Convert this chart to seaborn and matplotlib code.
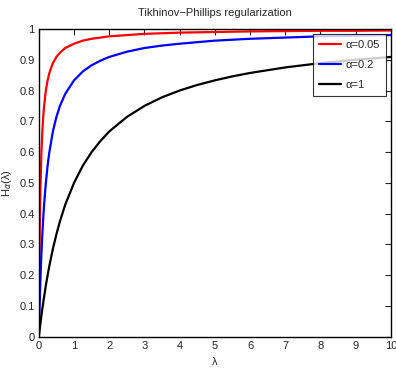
import matplotlib
matplotlib.use("Agg")
import matplotlib.pyplot as plt
import numpy as np
import pandas as pd
import seaborn as sns

# Values
lam = [0, 0.005, 0.01, 0.02, 0.03, 0.04, 0.05, 0.075, 0.1, 0.125, 0.15, 0.2,
       0.25, 0.3, 0.4, 0.5, 0.6, 0.75, 1, 1.25, 1.5, 1.75, 2, 2.5, 3, 3.5,
       4, 4.5, 5, 5.5, 6, 7, 8, 9, 10]
h_005 = [0, 0.091, 0.167, 0.286, 0.375, 0.444, 0.5, 0.6, 0.667, 0.714, 0.75,
         0.8, 0.833, 0.857, 0.889, 0.909, 0.923, 0.938, 0.952, 0.962, 0.968,
         0.972, 0.976, 0.980, 0.984, 0.986, 0.988, 0.989, 0.990, 0.991, 0.992,
         0.993, 0.994, 0.994, 0.995]
h_02 = [0, 0.024, 0.048, 0.091, 0.130, 0.167, 0.2, 0.273, 0.333, 0.385, 0.429,
        0.5, 0.556, 0.6, 0.667, 0.714, 0.75, 0.789, 0.833, 0.862, 0.882, 0.897,
        0.909, 0.926, 0.938, 0.946, 0.952, 0.957, 0.962, 0.965, 0.968, 0.972,
        0.976, 0.978, 0.980]
h_1 = [0, 0.005, 0.010, 0.020, 0.029, 0.038, 0.048, 0.070, 0.091, 0.111,
       0.130, 0.167, 0.2, 0.231, 0.286, 0.333, 0.375, 0.429, 0.5, 0.556, 0.6,
       0.636, 0.667, 0.714, 0.75, 0.778, 0.8, 0.818, 0.833, 0.846, 0.857,
       0.875, 0.889, 0.9, 0.909]
labels = ["α=0.05", "α=0.2", "α=1"]
colors = ["#ff0000", "#0000ff", "#000000"]

df = pd.concat([
    pd.DataFrame({"lam": lam, "H": vals, "alpha": lab})
    for vals, lab in zip([h_005, h_02, h_1], labels)
])

sns.set_style("white")
plt.rcParams["font.family"] = ["Liberation Sans Narrow", "Liberation Sans", "DejaVu Sans"]
plt.rcParams["font.size"] = 8

fig = plt.figure(figsize=(3.96, 3.71), dpi=100)
ax = fig.add_axes([0.098, 0.092, 0.889, 0.83])
sns.lineplot(data=df, x="lam", y="H", hue="alpha", palette=colors,
             linewidth=1.6, ax=ax, sort=False)

ax.set_xlim(0, 10)
ax.set_ylim(0, 1)
ax.set_xticks(np.arange(0, 11, 1))
ax.set_yticks(np.arange(0, 1.01, 0.1))
ax.set_yticklabels(["0", "0.1", "0.2", "0.3", "0.4", "0.5", "0.6", "0.7",
                    "0.8", "0.9", "1"])
ax.tick_params(direction="in", length=4, width=0.8, top=True, right=True,
               labelsize=8, pad=3)
for s in ax.spines.values():
    s.set_color("black")
    s.set_linewidth(1)
ax.set_xlabel("λ", fontsize=8)
ax.set_ylabel(r"H$_\alpha$(λ)", fontsize=8)
ax.set_title("Tikhinov\u2212Phillips regularization", fontsize=8, pad=9)

# MATLAB-style legend box
leg = ax.legend(loc="upper right", fontsize=8, frameon=True, fancybox=False,
                edgecolor="black", borderpad=0.55, handlelength=2.0,
                handletextpad=0.4, labelspacing=0.9, borderaxespad=0.45)
leg.get_frame().set_linewidth(0.8)

fig.savefig("out.png", dpi=100)
